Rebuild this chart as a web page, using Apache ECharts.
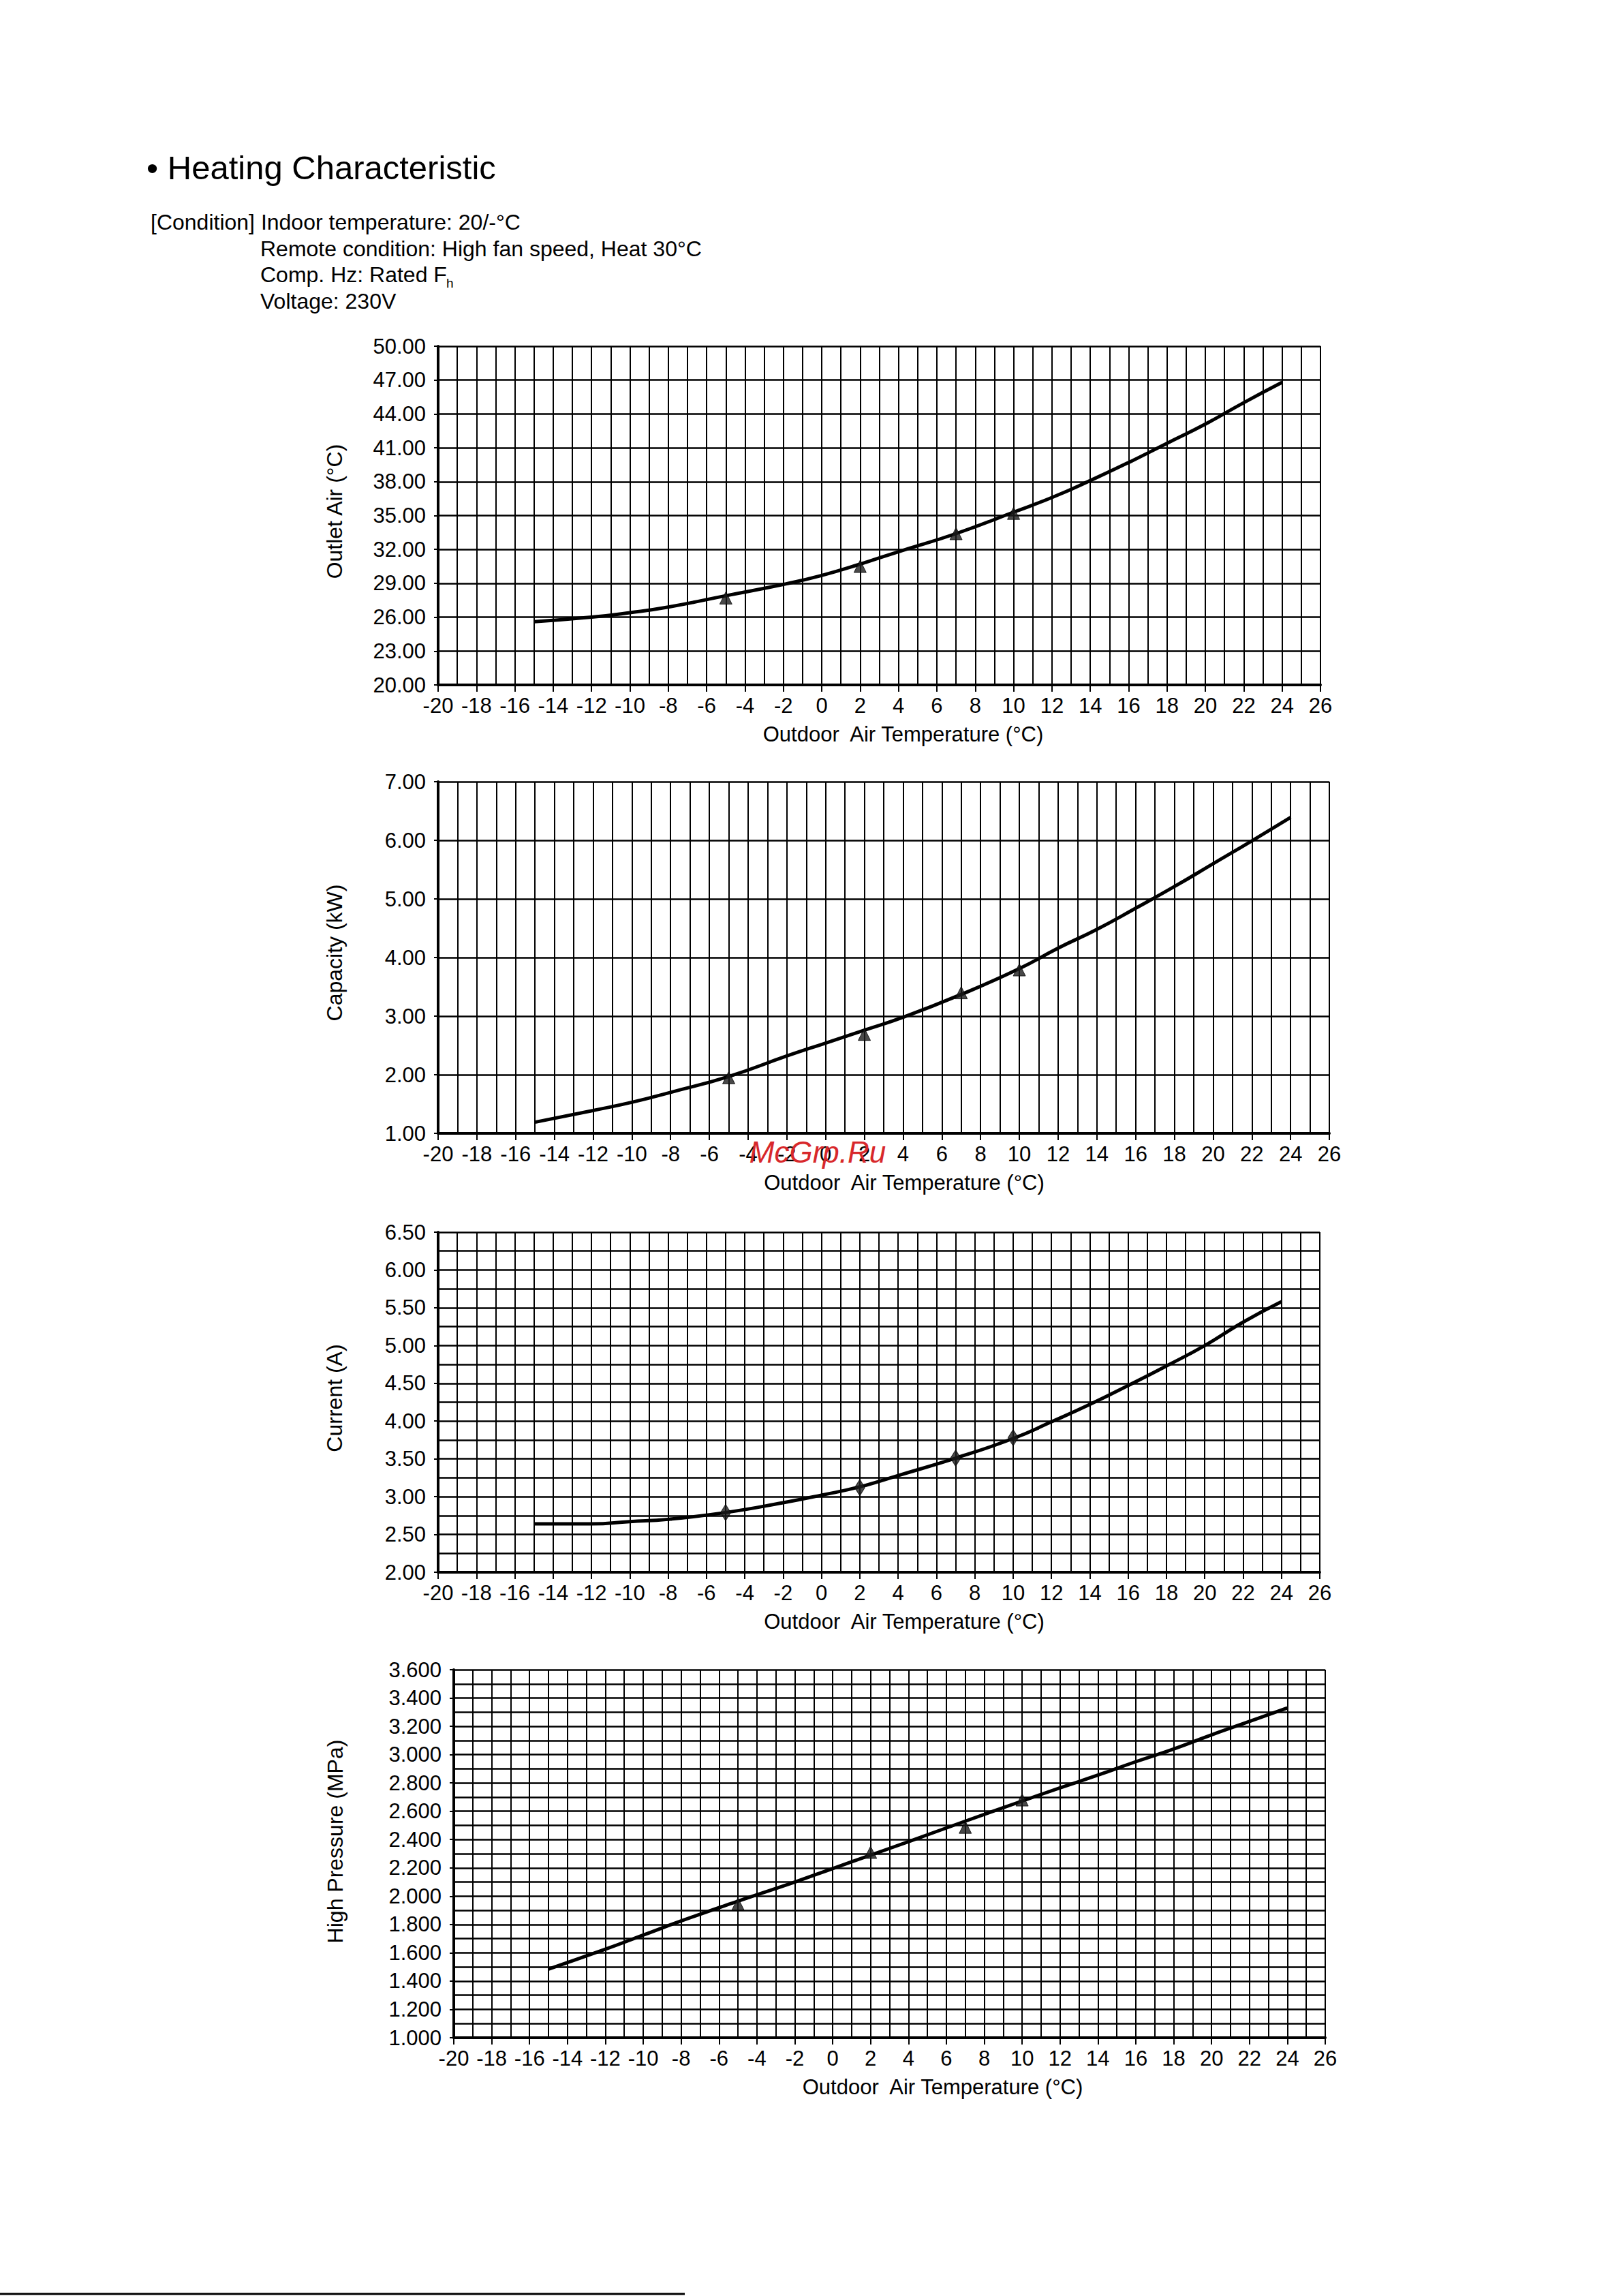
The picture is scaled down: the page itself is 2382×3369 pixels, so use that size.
<!DOCTYPE html>
<html>
<head>
<meta charset="utf-8">
<script src="https://cdn.jsdelivr.net/npm/echarts@6/dist/echarts.min.js"></script>
<style>
html,body{margin:0;padding:0;background:#fff;}
#c{width:2382px;height:3369px;}
</style>
</head>
<body>
<div id="c"></div>
<script>
// ---------- data ----------
const curveTemps = [-15, -12, -10, -8, -5, -2, 0, 2, 4, 7, 10, 12, 14, 16, 18, 20, 22, 24];
const markerTemps = [-5, 2, 7, 10];

const outletAir      = [25.6, 26.0, 26.4, 26.9, 27.9, 28.9, 29.7, 30.7, 31.8, 33.4, 35.3, 36.6, 38.1, 39.7, 41.4, 43.1, 45.0, 46.8];
const outletMarkers  = [27.7, 30.5, 33.4, 35.2];

const capacity       = [1.19, 1.39, 1.53, 1.70, 1.97, 2.32, 2.54, 2.76, 2.98, 3.37, 3.81, 4.16, 4.48, 4.84, 5.21, 5.60, 5.99, 6.39];
const capacityMarkers= [1.95, 2.69, 3.40, 3.79];

const current        = [2.64, 2.64, 2.67, 2.70, 2.79, 2.92, 3.02, 3.13, 3.28, 3.51, 3.77, 3.99, 4.22, 4.47, 4.73, 5.00, 5.31, 5.58];
const currentMarkers = [2.79, 3.12, 3.51, 3.78];

const pressure       = [1.485, 1.625, 1.725, 1.825, 1.965, 2.10, 2.195, 2.29, 2.385, 2.53, 2.672, 2.765, 2.855, 2.95, 3.04, 3.14, 3.235, 3.33];
const pressureMarkers= [1.945, 2.31, 2.487, 2.68];

const xTickMin = -20, xTickMax = 26, xTickStep = 2;
const yNames = ['Outlet Air (°C)', 'Capacity (kW)', 'Current (A)', 'High Pressure (MPa)'];
const xName = 'Outdoor  Air Temperature (°C)';
const titleText = '• Heating Characteristic';
const conditionLines = [
  '[Condition] Indoor temperature: 20/-°C',
  'Remote condition: High fan speed, Heat 30°C',
  'Comp. Hz: Rated F',
  'Voltage: 230V'
];

// ---------- layout / style ----------
const FONT = "'Liberation Sans', Arial, Helvetica, sans-serif";
const charts = [
  { grid:{left:643, top:508, width:1295, height:497}, vals:outletAir, marks:outletMarkers,
    yMin:20, yMax:50, yStep:3, off:20, dec:2, minor:false, sym:'triangle', symSize:18, nameGap:136, xPad:70, yPad:12 },
  { grid:{left:643, top:1147, width:1308, height:516}, vals:capacity, marks:capacityMarkers,
    yMin:1, yMax:7, yStep:1, off:0, dec:2, minor:false, sym:'triangle', symSize:18, nameGap:136, xPad:60, yPad:14 },
  { grid:{left:643, top:1808, width:1294, height:499}, vals:current, marks:currentMarkers,
    yMin:2, yMax:6.5, yStep:0.5, off:0, dec:2, minor:true, sym:'diamond', symSize:[15,24], nameGap:136, xPad:74, yPad:12 },
  { grid:{left:666, top:2450, width:1279, height:540}, vals:pressure, marks:pressureMarkers,
    yMin:1, yMax:3.6, yStep:0.2, off:0, dec:3, minor:true, sym:'triangle', symSize:18, nameGap:158, xPad:156, yPad:36 }
];

const grid = [], xAxis = [], yAxis = [], series = [];
charts.forEach((c, i) => {
  grid.push(Object.assign({containLabel:false}, c.grid));
  xAxis.push({
    type:'value', gridIndex:i, min:xTickMin, max:xTickMax, interval:xTickStep,
    name:xName, nameLocation:'middle', nameGap:57,
    nameTextStyle:{fontFamily:FONT, fontSize:31, color:'#000', padding:[0,0,0,c.xPad]},
    axisLine:{show:true, onZero:false, lineStyle:{color:'#000', width:4}},
    axisTick:{show:true, length:10, lineStyle:{color:'#000', width:2}},
    minorTick:{show:false, splitNumber:2},
    axisLabel:{fontFamily:FONT, fontSize:31, color:'#000', margin:15},
    splitLine:{show:true, lineStyle:{color:'#000', width:2}},
    minorSplitLine:{show:true, lineStyle:{color:'#000', width:2}}
  });
  yAxis.push({
    type:'value', gridIndex:i, min:c.yMin - c.off, max:c.yMax - c.off, interval:c.yStep,
    name:yNames[i], nameLocation:'middle', nameGap:c.nameGap, nameRotate:90,
    nameTextStyle:{fontFamily:FONT, fontSize:32, color:'#000', padding:[0,0,0,c.yPad]},
    axisLine:{show:true, onZero:false, lineStyle:{color:'#000', width:4}},
    axisTick:{show:true, length:6, lineStyle:{color:'#000', width:2}},
    minorTick:{show:false, splitNumber:2},
    axisLabel:{fontFamily:FONT, fontSize:31, color:'#000', margin:18,
      formatter:(v)=> (v + c.off).toFixed(c.dec)},
    splitLine:{show:true, lineStyle:{color:'#000', width:2.5}},
    minorSplitLine:{show:c.minor, lineStyle:{color:'#000', width:2.5}}
  });
  series.push({
    type:'line', xAxisIndex:i, yAxisIndex:i, smooth:0.5, symbol:'none', silent:true,
    lineStyle:{color:'#000', width:5}, z:3,
    data: curveTemps.map((t, k) => [t, c.vals[k] - c.off])
  });
  series.push({
    type:'scatter', xAxisIndex:i, yAxisIndex:i, symbol:c.sym, symbolSize:c.symSize, silent:true,
    itemStyle:{color:'#1c1c1c', borderColor:'#000', borderWidth:1}, z:4,
    data: markerTemps.map((t, k) => [t, c.marks[k] - c.off])
  });
});

const textStyle = (txt, size, extra) => Object.assign({text:txt, fontFamily:FONT, fontSize:size, fill:'#000', verticalAlign:'middle', align:'left'}, extra || {});
const condY = [326, 364.5, 403, 441.5];
const graphic = [
  {type:'text', x:215, y:246, style:textStyle(titleText, 49)},
  {type:'text', x:221, y:condY[0], style:textStyle(conditionLines[0], 32)},
  {type:'text', x:382, y:condY[1], style:textStyle(conditionLines[1], 32)},
  {type:'text', x:382, y:condY[2], style:textStyle(conditionLines[2], 32)},
  {type:'text', x:655, y:condY[2] + 12, style:textStyle('h', 19)},
  {type:'text', x:382, y:condY[3], style:textStyle(conditionLines[3], 32)},
  {type:'text', x:1200, y:1690, style:textStyle('McGrp.Ru', 44, {fill:'#d8282b', fontStyle:'italic', align:'center'}), z:10},
  {type:'line', shape:{x1:0, y1:3366, x2:1005, y2:3366}, style:{stroke:'#000', lineWidth:3}}
];

const chart = echarts.init(document.getElementById('c'), null, {renderer:'svg'});
chart.setOption({
  backgroundColor:'#fff',
  animation:false,
  grid, xAxis, yAxis, series, graphic
});
</script>
</body>
</html>
